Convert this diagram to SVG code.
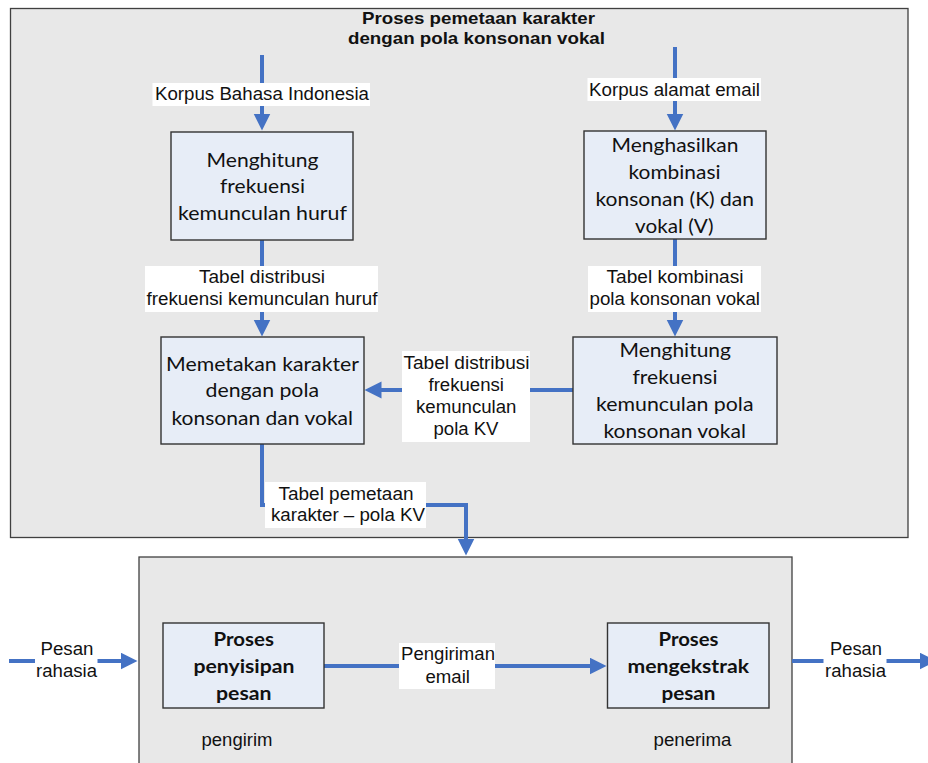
<svg xmlns="http://www.w3.org/2000/svg" width="928" height="763" viewBox="0 0 928 763">
<style>
.cont{fill:#E8E8E8;stroke:#404040;stroke-width:1.3}
.box{fill:#E7EDF7;stroke:#333333;stroke-width:1.4}
.lbl{fill:#FFFFFF;stroke:none}
.ln{fill:none;stroke:#4472C4;stroke-width:4}
.t{font-family:"Liberation Sans",Arial,sans-serif;font-size:17.5px;fill:#111111}
.tb{font-family:"Liberation Sans",Arial,sans-serif;font-size:16.5px;font-weight:bold;fill:#111111}
.c{font-family:Lato,"Noto Sans",sans-serif;font-size:20px;fill:#111111}
.cb{font-family:Lato,"Noto Sans",sans-serif;font-size:18.5px;font-weight:bold;fill:#111111}
</style>
<defs>
<marker id="ah" markerUnits="userSpaceOnUse" markerWidth="18" markerHeight="18" refX="0.5" refY="8.5" orient="auto">
<path d="M0,0 L17,8.5 L0,17 z" fill="#4472C4"/>
</marker>
</defs>

<g id="container-top">
<rect class="cont" x="10.5" y="8.5" width="897.5" height="529"/>
<text class="tb" x="362" y="24" textLength="233" lengthAdjust="spacingAndGlyphs">Proses pemetaan karakter</text>
<text class="tb" x="348" y="44" textLength="257" lengthAdjust="spacingAndGlyphs">dengan pola konsonan vokal</text>
</g>
<g id="container-bottom">
<rect class="cont" x="139" y="557" width="653" height="215"/>
<text class="t" x="201.5" y="745.5" textLength="71" lengthAdjust="spacingAndGlyphs">pengirim</text>
<text class="t" x="653.5" y="745.5" textLength="78" lengthAdjust="spacingAndGlyphs">penerima</text>
</g>

<g id="connectors">
<path class="ln" d="M262,55 V114" marker-end="url(#ah)"/>
<path class="ln" d="M675,47 V114" marker-end="url(#ah)"/>
<path class="ln" d="M262,240 V320" marker-end="url(#ah)"/>
<path class="ln" d="M675,239 V320" marker-end="url(#ah)"/>
<path class="ln" d="M573,390 H381" marker-end="url(#ah)"/>
<path class="ln" d="M262,444 V505 H466 V539" marker-end="url(#ah)"/>
<path class="ln" d="M9,661 H121" marker-end="url(#ah)"/>
<path class="ln" d="M324,666 H590" marker-end="url(#ah)"/>
<path class="ln" d="M792,661 H920" marker-end="url(#ah)"/>

<rect class="lbl" x="152.5" y="83" width="217.5" height="23"/>
<text class="t" x="155" y="99.5" textLength="214" lengthAdjust="spacingAndGlyphs">Korpus Bahasa Indonesia</text>

<rect class="lbl" x="587.5" y="78" width="173.5" height="23"/>
<text class="t" x="589" y="96" textLength="171" lengthAdjust="spacingAndGlyphs">Korpus alamat email</text>

<rect class="lbl" x="145" y="266" width="233" height="46"/>
<text class="t" x="199" y="282.5" textLength="126" lengthAdjust="spacingAndGlyphs">Tabel distribusi</text>
<text class="t" x="146.5" y="305" textLength="231" lengthAdjust="spacingAndGlyphs">frekuensi kemunculan huruf</text>

<rect class="lbl" x="588" y="266" width="173" height="46"/>
<text class="t" x="606.5" y="283" textLength="137" lengthAdjust="spacingAndGlyphs">Tabel kombinasi</text>
<text class="t" x="589.5" y="305" textLength="170.5" lengthAdjust="spacingAndGlyphs">pola konsonan vokal</text>

<rect class="lbl" x="402" y="351" width="128" height="91"/>
<text class="t" x="403.5" y="368.5" textLength="126" lengthAdjust="spacingAndGlyphs">Tabel distribusi</text>
<text class="t" x="428.5" y="390.5" textLength="75.5" lengthAdjust="spacingAndGlyphs">frekuensi</text>
<text class="t" x="416" y="413" textLength="100.5" lengthAdjust="spacingAndGlyphs">kemunculan</text>
<text class="t" x="433.5" y="435" textLength="65" lengthAdjust="spacingAndGlyphs">pola KV</text>

<rect class="lbl" x="265" y="482" width="161" height="46"/>
<text class="t" x="278.5" y="499.5" textLength="135" lengthAdjust="spacingAndGlyphs">Tabel pemetaan</text>
<text class="t" x="271" y="521" textLength="154" lengthAdjust="spacingAndGlyphs">karakter – pola KV</text>

<rect class="lbl" x="35" y="640" width="62.5" height="43"/>
<text class="t" x="40.5" y="655" textLength="53" lengthAdjust="spacingAndGlyphs">Pesan</text>
<text class="t" x="36" y="677" textLength="61" lengthAdjust="spacingAndGlyphs">rahasia</text>

<rect class="lbl" x="399" y="643" width="96" height="46"/>
<text class="t" x="401" y="660" textLength="94" lengthAdjust="spacingAndGlyphs">Pengiriman</text>
<text class="t" x="425.5" y="682.5" textLength="44.5" lengthAdjust="spacingAndGlyphs">email</text>

<rect class="lbl" x="823.5" y="640" width="63" height="43"/>
<text class="t" x="830" y="655" textLength="52" lengthAdjust="spacingAndGlyphs">Pesan</text>
<text class="t" x="825" y="677" textLength="61" lengthAdjust="spacingAndGlyphs">rahasia</text>
</g>

<g id="node-hitung-huruf">
<rect class="box" x="171" y="132" width="182" height="108"/>
<text class="c" x="206.5" y="166.5" textLength="112" lengthAdjust="spacingAndGlyphs">Menghitung</text>
<text class="c" x="220" y="193" textLength="85" lengthAdjust="spacingAndGlyphs">frekuensi</text>
<text class="c" x="178" y="220" textLength="169" lengthAdjust="spacingAndGlyphs">kemunculan huruf</text>
</g>

<g id="node-memetakan">
<rect class="box" x="161" y="337" width="203" height="107"/>
<text class="c" x="166" y="370.5" textLength="193" lengthAdjust="spacingAndGlyphs">Memetakan karakter</text>
<text class="c" x="205.5" y="397" textLength="113.5" lengthAdjust="spacingAndGlyphs">dengan pola</text>
<text class="c" x="171.5" y="425" textLength="181.5" lengthAdjust="spacingAndGlyphs">konsonan dan vokal</text>
</g>

<g id="node-menghasilkan">
<rect class="box" x="584" y="131" width="182" height="108"/>
<text class="c" x="611.5" y="151.5" textLength="127" lengthAdjust="spacingAndGlyphs">Menghasilkan</text>
<text class="c" x="628.5" y="179" textLength="92" lengthAdjust="spacingAndGlyphs">kombinasi</text>
<text class="c" x="595.5" y="206" textLength="158.5" lengthAdjust="spacingAndGlyphs">konsonan (K) dan</text>
<text class="c" x="635" y="232.5" textLength="78.5" lengthAdjust="spacingAndGlyphs">vokal (V)</text>
</g>

<g id="node-hitung-pola">
<rect class="box" x="573" y="337" width="204" height="107"/>
<text class="c" x="619.5" y="357" textLength="111.5" lengthAdjust="spacingAndGlyphs">Menghitung</text>
<text class="c" x="632.5" y="384" textLength="85" lengthAdjust="spacingAndGlyphs">frekuensi</text>
<text class="c" x="596" y="411" textLength="157.5" lengthAdjust="spacingAndGlyphs">kemunculan pola</text>
<text class="c" x="603.5" y="437.5" textLength="142.5" lengthAdjust="spacingAndGlyphs">konsonan vokal</text>
</g>

<g id="node-penyisipan">
<rect class="box" x="163" y="623" width="161" height="85"/>
<text class="cb" x="213.5" y="645.5" textLength="60.5" lengthAdjust="spacingAndGlyphs">Proses</text>
<text class="cb" x="193.5" y="672.5" textLength="101" lengthAdjust="spacingAndGlyphs">penyisipan</text>
<text class="cb" x="216" y="700" textLength="55.5" lengthAdjust="spacingAndGlyphs">pesan</text>
</g>

<g id="node-mengekstrak">
<rect class="box" x="607.5" y="623" width="161.5" height="85"/>
<text class="cb" x="658.5" y="645.5" textLength="60" lengthAdjust="spacingAndGlyphs">Proses</text>
<text class="cb" x="627.5" y="672.5" textLength="121.5" lengthAdjust="spacingAndGlyphs">mengekstrak</text>
<text class="cb" x="661.5" y="700" textLength="54" lengthAdjust="spacingAndGlyphs">pesan</text>
</g>
</svg>
